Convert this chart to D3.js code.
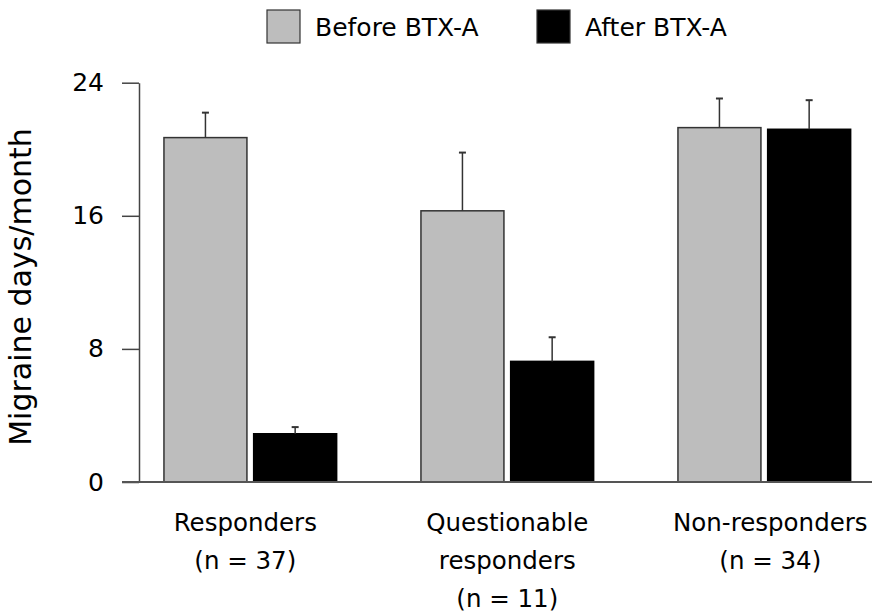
<!DOCTYPE html>
<html>
<head>
<meta charset="utf-8">
<script src="https://cdn.jsdelivr.net/npm/d3@7"></script>
<style>
  html, body { margin: 0; padding: 0; background: #fff; }
  svg text { font-family: "DejaVu Sans", Verdana, sans-serif; fill: #000; }
</style>
</head>
<body>
<svg id="chart" width="872" height="614"></svg>
<script>
// ---- data ----
const categories = ["Responders", "Questionable responders", "Non-responders"];
const categoryLines = [["Responders", "(n = 37)"], ["Questionable", "responders", "(n = 11)"], ["Non-responders", "(n = 34)"]];
const seriesNames = ["Before BTX-A", "After BTX-A"];
const beforeValues = [20.7, 16.3, 21.3];
const beforeErrors = [1.5, 3.5, 1.75];
const afterValues = [2.9, 7.25, 21.2];
const afterErrors = [0.4, 1.45, 1.75];
const yTicks = [0, 8, 16, 24];
const yTitle = "Migraine days/month";

// ---- layout ----
const svg = d3.select("#chart");
const colors = { "Before BTX-A": "#bdbdbd", "After BTX-A": "#000000" };
const labelShift = [-5, 0, 6];

const y = d3.scaleLinear().domain([0, 24]).range([482, 82.7]);
const x0 = d3.scaleBand().domain(categories).range([121.8, 892.8]).paddingInner(0.328).paddingOuter(0.164);
const x1 = d3.scaleBand().domain(seriesNames).range([0, x0.bandwidth()]).paddingInner(0.075);

const rows = [];
categories.forEach((c, i) => {
  rows.push({ cat: c, series: seriesNames[0], value: beforeValues[i], err: beforeErrors[i] });
  rows.push({ cat: c, series: seriesNames[1], value: afterValues[i], err: afterErrors[i] });
});

// Y axis
const yAxis = d3.axisLeft(y).tickValues(yTicks).tickSize(17).tickPadding(18).tickSizeOuter(0);
const gy = svg.append("g").attr("transform", "translate(139,0)").call(yAxis);
gy.select(".domain").attr("stroke", "#444").attr("stroke-width", 1.5);
gy.selectAll(".tick line").attr("stroke", "#444").attr("stroke-width", 1.5);
gy.selectAll(".tick text").style("font-size", "25px").attr("fill", "#000");

// bars
const g = svg.append("g");
g.selectAll("rect.bar").data(rows).enter().append("rect")
  .attr("class", "bar")
  .attr("x", d => x0(d.cat) + x1(d.series))
  .attr("width", x1.bandwidth())
  .attr("y", d => y(d.value))
  .attr("height", d => y(0) - y(d.value))
  .attr("fill", d => colors[d.series])
  .attr("stroke", d => d.series === seriesNames[0] ? "#333" : "#000")
  .attr("stroke-width", 1.5);

// error bars
const eb = g.selectAll("g.err").data(rows).enter().append("g").attr("class", "err");
eb.append("line")
  .attr("x1", d => x0(d.cat) + x1(d.series) + x1.bandwidth() / 2)
  .attr("x2", d => x0(d.cat) + x1(d.series) + x1.bandwidth() / 2)
  .attr("y1", d => y(d.value))
  .attr("y2", d => y(d.value + d.err))
  .attr("stroke", "#333").attr("stroke-width", 1.5);
eb.append("line")
  .attr("x1", d => x0(d.cat) + x1(d.series) + x1.bandwidth() / 2 - 3.5)
  .attr("x2", d => x0(d.cat) + x1(d.series) + x1.bandwidth() / 2 + 3.5)
  .attr("y1", d => y(d.value + d.err))
  .attr("y2", d => y(d.value + d.err))
  .attr("stroke", "#333").attr("stroke-width", 2);

// baseline
svg.append("line").attr("x1", 122).attr("x2", 872).attr("y1", y(0)).attr("y2", y(0))
  .attr("stroke", "#555").attr("stroke-width", 2);

// category labels
categories.forEach((c, i) => {
  const cx = x0(c) + x0.bandwidth() / 2 + labelShift[i];
  const t = svg.append("text").attr("text-anchor", "middle").style("font-size", "24.5px");
  categoryLines[i].forEach((ln, j) => {
    t.append("tspan").attr("x", cx).attr("y", 531 + j * 38).text(ln);
  });
});

// y title
svg.append("text")
  .attr("transform", "translate(31,287) rotate(-90)")
  .attr("text-anchor", "middle")
  .style("font-size", "30px")
  .text(yTitle);

// legend
const legendX = [267, 537];
seriesNames.forEach((s, i) => {
  svg.append("rect").attr("x", legendX[i]).attr("y", 10).attr("width", 33).attr("height", 33)
    .attr("fill", colors[s]).attr("stroke", "#333").attr("stroke-width", 1.2);
  svg.append("text").attr("x", legendX[i] + 48).attr("y", 36).style("font-size", "25px").text(s);
});
</script>
</body>
</html>
